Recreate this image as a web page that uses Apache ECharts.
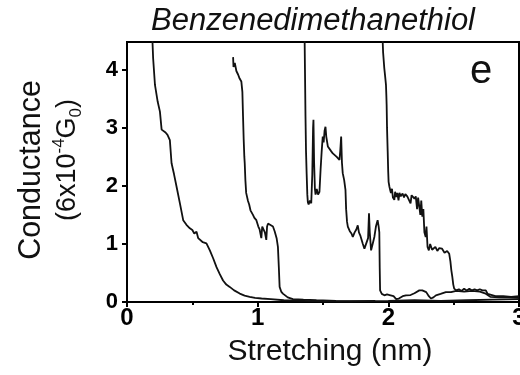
<!DOCTYPE html>
<html>
<head>
<meta charset="utf-8">
<script src="https://cdn.jsdelivr.net/npm/echarts@6/dist/echarts.min.js"></script>
<style>
  html, body { margin: 0; padding: 0; background: #fff; }
  #chart { width: 520px; height: 375px; }
</style>
</head>
<body>
<div id="chart"></div>
<script>
// ---- data: [stretching (nm), conductance (6x10^-4 G0)] ----
var trace1 = [
  [0.193,4.6],[0.200,4.2],[0.214,3.74],[0.235,3.45],[0.252,3.28],[0.265,2.97],[0.28,2.98],
  [0.295,2.92],[0.31,2.88],[0.328,2.79],[0.341,2.39],[0.36,2.2],[0.379,1.99],[0.405,1.70],
  [0.43,1.41],[0.455,1.33],[0.481,1.27],[0.50,1.24],[0.515,1.18],[0.532,1.21],[0.545,1.1],
  [0.557,1.07],[0.58,1.03],[0.608,1.01],[0.634,0.89],[0.66,0.75],[0.685,0.60],[0.71,0.48],
  [0.735,0.37],[0.76,0.30],[0.786,0.26],[0.82,0.2],[0.863,0.145],[0.90,0.11],[0.939,0.09],
  [0.98,0.07],[1.03,0.06],[1.1,0.05],[1.2,0.03],[1.35,0.02],[1.5,0.01],[1.7,0.01],[1.9,0.02]
];
var trace2 = [
  [0.812,4.22],[0.815,4.05],[0.825,4.12],[0.837,3.98],[0.85,3.92],[0.862,3.85],[0.875,3.8],
  [0.883,3.62],[0.888,3.2],[0.893,2.8],[0.898,2.5],[0.901,2.39],[0.906,2.1],[0.912,1.88],
  [0.918,1.82],[0.926,1.74],[0.935,1.68],[0.945,1.58],[0.955,1.6],[0.964,1.5],[0.975,1.45],
  [0.99,1.41],[1.005,1.3],[1.015,1.25],[1.028,1.1],[1.035,1.3],[1.045,1.32],[1.055,1.2],
  [1.066,1.07],[1.072,1.3],[1.079,1.35],[1.095,1.33],[1.117,1.30],[1.13,1.22],[1.145,1.1],
  [1.155,0.95],[1.162,0.6],[1.168,0.26],[1.18,0.18],[1.193,0.145],[1.23,0.08],[1.27,0.05],
  [1.35,0.04],[1.45,0.03],[1.6,0.02],[1.8,0.015],[2.0,0.02],[2.2,0.03],[2.4,0.02],[2.6,0.03],
  [2.8,0.04],[3.0,0.05]
];
var trace3 = [
  [1.359,4.6],[1.362,4.0],[1.366,3.2],[1.370,2.6],[1.375,2.2],[1.38,1.85],[1.384,1.72],
  [1.39,1.68],[1.40,1.75],[1.41,1.70],[1.418,2.2],[1.424,3.0],[1.427,3.14],[1.432,2.4],
  [1.438,1.95],[1.443,1.85],[1.452,1.95],[1.462,1.85],[1.473,1.9],[1.482,2.3],[1.49,2.6],
  [1.498,2.85],[1.505,2.75],[1.512,2.95],[1.519,3.02],[1.525,2.85],[1.537,2.68],[1.55,2.7],
  [1.562,2.6],[1.575,2.56],[1.59,2.55],[1.605,2.5],[1.615,2.52],[1.626,2.45],[1.632,2.6],
  [1.639,2.85],[1.645,2.4],[1.651,2.22],[1.662,2.1],[1.672,1.93],[1.677,1.6],[1.684,1.38],
  [1.69,1.30],[1.705,1.22],[1.718,1.18],[1.728,1.12],[1.742,1.2],[1.755,1.25],[1.766,1.32],
  [1.775,1.2],[1.785,1.15],[1.792,1.12],[1.805,1.0],[1.817,0.92],[1.83,0.95],[1.845,1.1],
  [1.852,1.53],[1.858,1.2],[1.868,0.89],[1.88,1.0],[1.893,1.12],[1.905,1.3],[1.918,1.41],
  [1.926,1.3],[1.931,1.2],[1.934,0.6],[1.937,0.2],[1.95,0.14],[1.97,0.115],[1.99,0.13],
  [2.01,0.12],[2.04,0.1],[2.06,0.05],[2.08,0.06],[2.11,0.1],[2.135,0.115],[2.17,0.12],
  [2.2,0.15],[2.237,0.2],[2.26,0.2],[2.29,0.17],[2.31,0.1],[2.326,0.06],[2.345,0.08],
  [2.364,0.115],[2.4,0.14],[2.44,0.17],[2.48,0.17],[2.52,0.19],[2.58,0.18],[2.64,0.19],
  [2.7,0.18],[2.74,0.15],[2.78,0.09],[2.85,0.08],[2.92,0.08],[3.0,0.07]
];
var trace4 = [
  [1.955,4.6],[1.96,4.3],[1.969,4.03],[1.975,3.9],[1.982,3.74],[1.985,3.55],[1.987,3.40],
  [1.99,3.0],[1.995,2.6],[1.999,2.25],[2.002,2.07],[2.008,1.99],[2.015,1.92],[2.02,1.88],
  [2.028,1.95],[2.035,1.8],[2.046,1.76],[2.052,1.9],[2.059,1.81],[2.068,1.88],[2.078,1.75],
  [2.085,1.88],[2.095,1.82],[2.109,1.87],[2.12,1.8],[2.13,1.86],[2.145,1.82],[2.16,1.85],
  [2.17,1.7],[2.178,1.84],[2.186,1.84],[2.2,1.78],[2.21,1.82],[2.22,1.6],[2.228,1.8],
  [2.237,1.81],[2.245,1.5],[2.252,1.75],[2.26,1.47],[2.268,1.6],[2.276,1.2],[2.286,1.12],
  [2.292,1.3],[2.3,0.95],[2.31,0.89],[2.32,1.0],[2.335,0.9],[2.36,0.95],[2.375,0.88],
  [2.39,0.93],[2.41,0.92],[2.43,0.85],[2.45,0.88],[2.466,0.83],[2.475,0.7],[2.482,0.55],
  [2.49,0.43],[2.497,0.3],[2.504,0.23],[2.52,0.2],[2.54,0.22],[2.56,0.19],[2.58,0.23],
  [2.6,0.2],[2.62,0.23],[2.64,0.2],[2.66,0.22],[2.68,0.2],[2.7,0.22],[2.72,0.2],[2.746,0.2],
  [2.76,0.14],[2.77,0.115],[2.82,0.1],[2.88,0.1],[2.94,0.09],[3.0,0.1]
];
var traces = [trace1, trace2, trace3, trace4];
var yTicks = [0, 1, 2, 3, 4];

var FONT = '"Liberation Sans", Arial, sans-serif';

var chart = echarts.init(document.getElementById('chart'));

chart.setOption({
  animation: false,
  backgroundColor: '#fff',
  grid: {
    left: 127, top: 42, right: 1, bottom: 73,
    outerBoundsMode: 'none', containLabel: false,
    show: true, borderColor: '#000', borderWidth: 2, backgroundColor: 'transparent'
  },
  xAxis: {
    type: 'value', min: 0, max: 3, interval: 1,
    axisLine: { show: true, lineStyle: { color: '#000', width: 2 } },
    axisTick: { show: true, inside: false, length: 5, lineStyle: { color: '#000', width: 2 } },
    minorTick: { show: true, splitNumber: 2, length: 3, lineStyle: { color: '#000', width: 2 } },
    splitLine: { show: false },
    axisLabel: {
      color: '#000', fontFamily: FONT, fontWeight: 'bold', fontSize: 24, margin: 4,
      hideOverlap: false
    }
  },
  yAxis: {
    type: 'value', min: 0, max: 4.48,
    axisLine: { show: true, lineStyle: { color: '#000', width: 2 } },
    axisTick: { show: true, inside: false, length: 5, customValues: yTicks,
      lineStyle: { color: '#000', width: 2 } },
    splitLine: { show: false },
    axisLabel: {
      customValues: yTicks,
      color: '#000', fontFamily: FONT, fontWeight: 'bold', fontSize: 22, margin: 9
    }
  },
  graphic: [
    {
      type: 'text', x: 313, y: 21,
      style: {
        text: 'Benzenedimethanethiol', fill: '#111', fontFamily: FONT,
        fontStyle: 'italic', fontSize: 31, textAlign: 'center', textVerticalAlign: 'middle'
      }
    },
    {
      type: 'text', x: 481, y: 72,
      style: {
        text: 'e', fill: '#111', fontFamily: FONT, fontSize: 40,
        textAlign: 'center', textVerticalAlign: 'middle'
      }
    },
    {
      type: 'text', x: 330, y: 352,
      style: {
        text: 'Stretching (nm)', fill: '#111', fontFamily: FONT, fontSize: 30,
        textAlign: 'center', textVerticalAlign: 'middle'
      }
    },
    {
      type: 'text', x: 32, y: 170, rotation: Math.PI / 2,
      style: {
        text: 'Conductance', fill: '#111', fontFamily: FONT, fontSize: 30.5,
        textAlign: 'center', textVerticalAlign: 'middle'
      }
    },
    {
      type: 'text', x: 68, y: 160, rotation: Math.PI / 2,
      style: {
        text: '{b|(6x10}{sup|-4}{b|G}{sub|0}{b|)}', fill: '#111', fontFamily: FONT,
        textAlign: 'center', textVerticalAlign: 'middle',
        rich: {
          b: { fontSize: 27, fontFamily: FONT, fill: '#111', lineHeight: 34 },
          sup: { fontSize: 17, fontFamily: FONT, fill: '#111', verticalAlign: 'top', lineHeight: 16 },
          sub: { fontSize: 17, fontFamily: FONT, fill: '#111', verticalAlign: 'bottom', lineHeight: 16 }
        }
      }
    }
  ],
  series: traces.map(function (t) {
    return {
      type: 'line', data: t, showSymbol: false, smooth: false, clip: true,
      lineStyle: { color: '#111', width: 1.8 }
    };
  })
});
</script>
</body>
</html>
